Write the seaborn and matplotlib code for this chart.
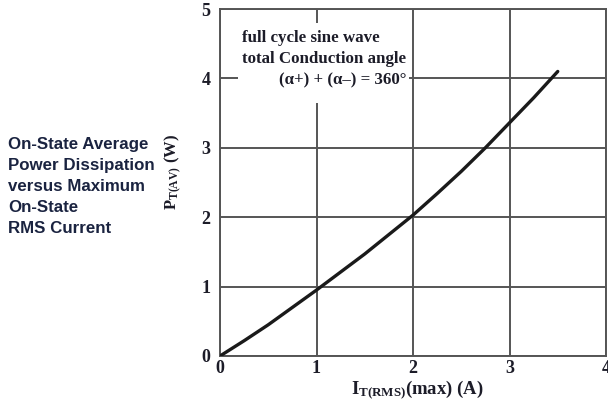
import pandas as pd
import matplotlib.pyplot as plt
import seaborn as sns
from matplotlib.patches import Rectangle

# values
current_rms = [0, 0.25, 0.5, 0.75, 1.0, 1.25, 1.5, 1.75, 2.0, 2.25, 2.5, 2.75, 3.0, 3.25, 3.5]
power_av = [0, 0.22, 0.45, 0.70, 0.95, 1.21, 1.47, 1.75, 2.03, 2.34, 2.66, 3.00, 3.36, 3.72, 4.10]
x_ticks = [0, 1, 2, 3, 4]
y_ticks = [0, 1, 2, 3, 4, 5]
side_title = "On-State Average\nPower Dissipation\nversus Maximum\nOn-State\nRMS Current"
note_lines = ["full cycle sine wave", "total Conduction angle", "(\u03b1+) + (\u03b1\u2013) = 360\u00b0"]

sns.set_style("white")
plt.rcParams['font.family'] = ['Liberation Serif', 'DejaVu Serif']
plt.rcParams['mathtext.fontset'] = 'custom'
plt.rcParams['mathtext.rm'] = 'Liberation Serif:bold'
plt.rcParams['mathtext.it'] = 'Liberation Serif:bold'

df = pd.DataFrame({"I": current_rms, "P": power_av})

fig = plt.figure(figsize=(6.08, 4.03), dpi=100)
ax = fig.add_axes([220 / 608, 1 - 356 / 403, 386 / 608, 347 / 403])

ax.set_xlim(0, 4)
ax.set_ylim(0, 5)
ax.set_xticks(x_ticks)
ax.set_yticks(y_ticks)
ax.grid(True, color='#555555', linewidth=1.4)
for sp in ax.spines.values():
    sp.set_color('#555555')
    sp.set_linewidth(1.4)
ax.tick_params(length=0, labelsize=13, colors='#1c1c28', pad=3)
for lbl in ax.get_xticklabels() + ax.get_yticklabels():
    lbl.set_fontweight('bold')
ax.tick_params(axis='y', pad=7)

# white box behind the note, hides the grid there
ax.add_patch(Rectangle((0.047, 0.729), 0.443, 0.232, transform=ax.transAxes,
                       facecolor='white', edgecolor='none', zorder=2))

sns.lineplot(data=df, x="I", y="P", ax=ax, color='#1a1a1a', linewidth=2.4, zorder=3)

ax.text(0.057, 0.917, note_lines[0], transform=ax.transAxes, fontsize=12.2,
        fontweight='bold', va='center', ha='left', color='#1c1c28', zorder=4)
ax.text(0.057, 0.855, note_lines[1], transform=ax.transAxes, fontsize=12.2,
        fontweight='bold', va='center', ha='left', color='#1c1c28', zorder=4)
ax.text(0.484, 0.793, note_lines[2], transform=ax.transAxes, fontsize=12.2,
        fontweight='bold', va='center', ha='right', color='#1c1c28', zorder=4)

ax.set_xlabel(r"$\mathrm{I_{T(RMS)}}$(max) (A)", fontsize=13.4, fontweight='bold', color='#1c1c28')
ax.set_ylabel(r"$\mathrm{P_{T(AV)}}$ (W)", fontsize=12, fontweight='bold', color='#1c1c28')
ax.xaxis.set_label_coords(0.51, -0.065)
ax.yaxis.set_label_coords(-0.092, 0.53)

fig.text(8 / 608, 1 - 137 / 403, side_title, fontsize=12.2, fontweight='bold',
         family=['Liberation Sans', 'DejaVu Sans'], color='#1a2340',
         va='top', ha='left', linespacing=1.5)

plt.savefig("out.png", dpi=100)
